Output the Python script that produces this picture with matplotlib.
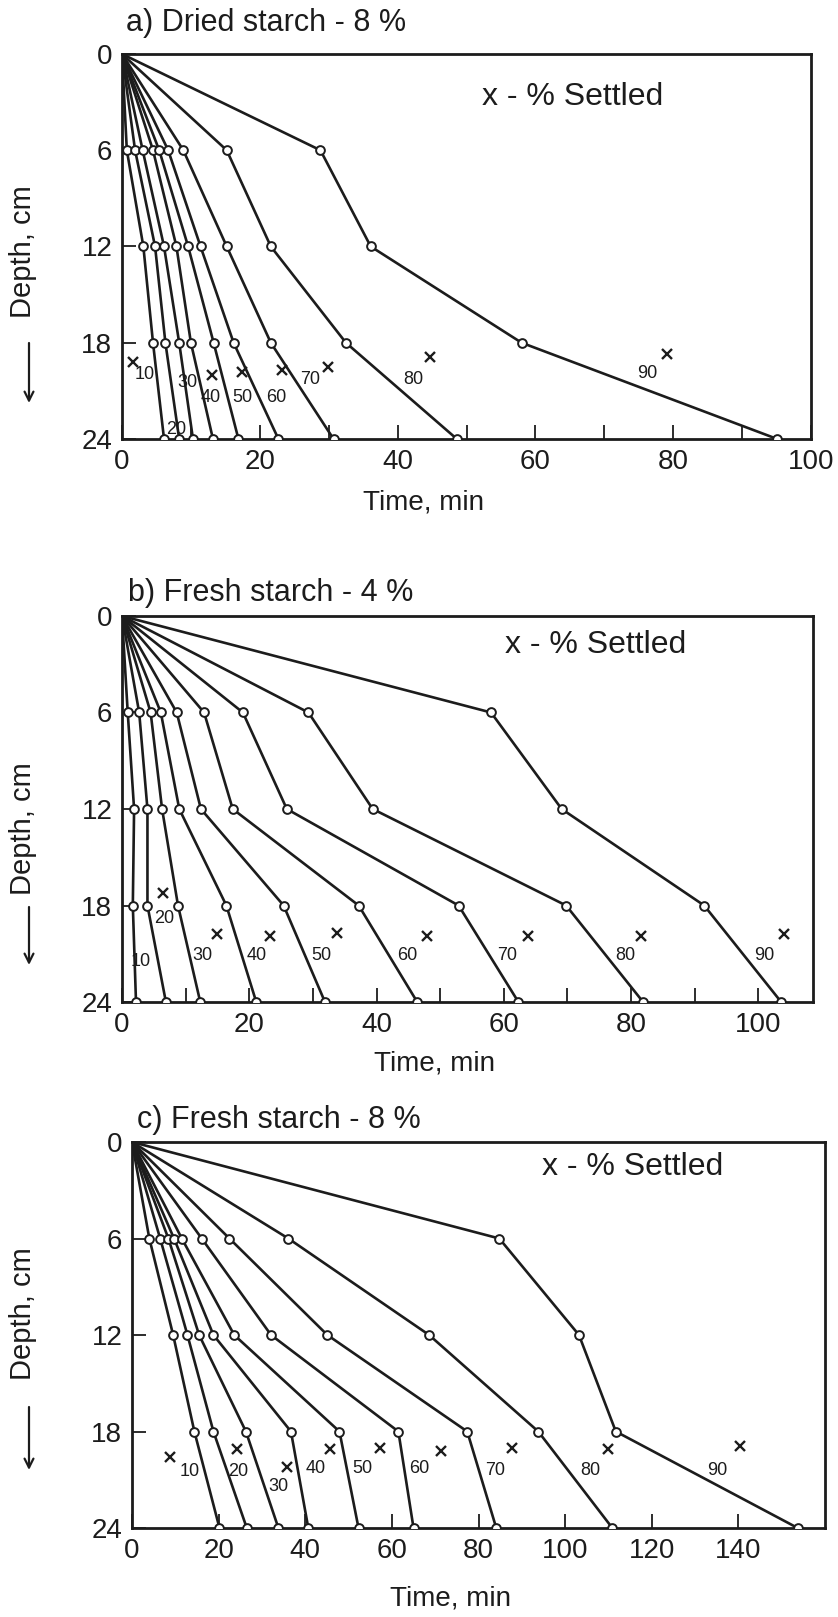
import matplotlib.pyplot as plt
import numpy as np

plt.rcParams['font.family'] = ['Liberation Sans', 'DejaVu Sans']

depths = [0, 6, 12, 18, 24]
settled = [10, 20, 30, 40, 50, 60, 70, 80, 90]

# a) dried starch 8 %: time (min) at which each % settled front reaches 6/12/18/24 cm
dried8_t6 = [0.7, 1.9, 3.0, 4.5, 5.4, 6.7, 8.9, 15.2, 28.8]
dried8_t12 = [3.1, 4.8, 6.1, 7.9, 9.6, 11.4, 15.2, 21.6, 36.1]
dried8_t18 = [4.5, 6.3, 8.3, 10.0, 13.3, 16.2, 21.6, 32.5, 58.0]
dried8_t24 = [6.1, 8.3, 10.3, 13.2, 16.9, 22.7, 30.7, 48.6, 95.1]
dried8_x_pct = [10, 40, 50, 60, 70, 80, 90]
dried8_x_t = [1.6, 13.0, 17.4, 23.2, 29.9, 44.7, 79.1]
dried8_x_d = [19.2, 20.0, 19.8, 19.7, 19.5, 18.9, 18.7]
dried8_tag_t = [3.3, 7.9, 9.5, 12.8, 17.4, 22.4, 27.3, 42.3, 76.2]
dried8_tag_d = [20.0, 23.4, 20.5, 21.4, 21.4, 21.4, 20.3, 20.3, 19.9]

# b) fresh starch 4 %
fresh4_t6 = [0.9, 2.7, 4.5, 6.1, 8.6, 12.9, 19.0, 29.3, 58.0]
fresh4_t12 = [1.9, 4.0, 6.3, 9.0, 12.4, 17.4, 25.9, 39.4, 69.1]
fresh4_t18 = [1.7, 4.0, 8.8, 16.4, 25.4, 37.2, 52.9, 69.8, 91.5]
fresh4_t24 = [2.2, 6.9, 12.3, 21.1, 31.9, 46.4, 62.3, 81.9, 103.6]
fresh4_x_pct = [20, 30, 40, 50, 60, 70, 80, 90]
fresh4_x_t = [6.4, 14.9, 23.3, 33.8, 47.9, 63.8, 81.6, 104.0]
fresh4_x_d = [17.2, 19.8, 19.9, 19.7, 19.9, 19.9, 19.9, 19.8]
fresh4_tag_t = [3.0, 6.6, 12.7, 21.2, 31.3, 44.9, 60.5, 79.1, 101.0]
fresh4_tag_d = [21.5, 18.8, 21.1, 21.1, 21.1, 21.1, 21.1, 21.1, 21.1]

# c) fresh starch 8 %
fresh8_t6 = [4.0, 6.5, 8.4, 9.7, 11.5, 16.1, 22.5, 36.1, 84.8]
fresh8_t12 = [9.5, 12.8, 15.5, 18.8, 23.6, 32.1, 45.1, 68.6, 103.2]
fresh8_t18 = [14.4, 18.8, 26.3, 36.7, 47.9, 61.5, 77.4, 93.8, 111.7]
fresh8_t24 = [20.2, 26.5, 33.8, 40.7, 52.3, 65.0, 84.1, 110.9, 153.7]
fresh8_x_pct = [10, 20, 30, 40, 50, 60, 70, 80, 90]
fresh8_x_t = [8.8, 24.2, 35.7, 45.7, 57.3, 71.3, 87.7, 109.9, 140.3]
fresh8_x_d = [19.6, 19.1, 20.2, 19.1, 19.0, 19.2, 19.0, 19.1, 18.9]
fresh8_tag_t = [13.4, 24.5, 33.8, 42.5, 53.3, 66.4, 83.8, 105.8, 135.2]
fresh8_tag_d = [20.5, 20.5, 21.4, 20.3, 20.3, 20.3, 20.4, 20.4, 20.4]

INK = '#1c1c1c'
W, H = 838, 1617


def _box(left, top, right, bottom):
    # pixel box -> figure fraction rect
    return [left / W, 1 - bottom / H, (right - left) / W, (bottom - top) / H]


def draw_panel(ax, rows, x_t, x_d, tag_t, tag_d, xmax, xticks, minor, note_x, note_y):
    for i in range(len(settled)):
        t = [0] + [row[i] for row in rows]
        ax.plot(t, depths, color=INK, lw=1.9, zorder=2)
        ax.plot(t[1:], depths[1:], 'o', ms=6.3, mfc='white', mec=INK, mew=1.4, zorder=3)
    ax.plot(x_t, x_d, 'x', ms=7, mew=1.7, color=INK, zorder=3)
    for p, tx, dy in zip(settled, tag_t, tag_d):
        ax.text(tx, dy, str(p), fontsize=13, ha='center', va='center', color=INK)
    ax.text(note_x, note_y, 'x - % Settled', fontsize=23, ha='left', va='center', color=INK)

    ax.set_xlim(0, xmax)
    ax.set_ylim(24, 0)
    ax.set_xticks(xticks)
    if minor:
        ax.set_xticks(np.arange(10, xmax, 10), minor=True)
    ax.set_yticks(depths)
    ax.tick_params(which='both', direction='in', length=10, width=1.3, labelsize=20,
                   colors=INK, pad=7)
    for s in ax.spines.values():
        s.set_linewidth(2.0)
        s.set_color(INK)


def depth_label(fig, y_mid, y_arrow_top, y_arrow_bot):
    fig.text(23 / W, 1 - y_mid / H, 'Depth, cm', rotation=90, fontsize=21,
             ha='center', va='center', color=INK)
    fig.add_artist(plt.matplotlib.patches.FancyArrowPatch(
        (29 / W, 1 - y_arrow_top / H), (29 / W, 1 - y_arrow_bot / H),
        transform=fig.transFigure, arrowstyle='->', lw=1.6, color=INK,
        mutation_scale=16, shrinkA=0, shrinkB=0))


fig = plt.figure(figsize=(W / 100, H / 100), dpi=100)

ax_a = fig.add_axes(_box(122, 54, 811, 439))
draw_panel(ax_a, [dried8_t6, dried8_t12, dried8_t18, dried8_t24],
           dried8_x_t, dried8_x_d, dried8_tag_t, dried8_tag_d,
           100, np.arange(0, 101, 20), True, 52.2, 2.7)

ax_b = fig.add_axes(_box(122, 616, 813, 1002))
draw_panel(ax_b, [fresh4_t6, fresh4_t12, fresh4_t18, fresh4_t24],
           fresh4_x_t, fresh4_x_d, fresh4_tag_t, fresh4_tag_d,
           108.6, np.arange(0, 101, 20), True, 60.2, 1.8)

ax_c = fig.add_axes(_box(132, 1142, 825, 1528))
draw_panel(ax_c, [fresh8_t6, fresh8_t12, fresh8_t18, fresh8_t24],
           fresh8_x_t, fresh8_x_d, fresh8_tag_t, fresh8_tag_d,
           160, np.arange(0, 141, 20), False, 94.6, 1.55)

fig.text(126 / W, 1 - 23 / H, 'a) Dried starch - 8 %', fontsize=22, ha='left', va='center', color=INK)
fig.text(128 / W, 1 - 593 / H, 'b) Fresh starch - 4 %', fontsize=22, ha='left', va='center', color=INK)
fig.text(137 / W, 1 - 1120 / H, 'c) Fresh starch - 8 %', fontsize=22, ha='left', va='center', color=INK)

fig.text(423 / W, 1 - 502 / H, 'Time, min', fontsize=20, ha='center', va='center', color=INK)
fig.text(434 / W, 1 - 1063 / H, 'Time, min', fontsize=20, ha='center', va='center', color=INK)
fig.text(450 / W, 1 - 1598 / H, 'Time, min', fontsize=20, ha='center', va='center', color=INK)

depth_label(fig, 252, 343, 403)
depth_label(fig, 829, 907, 965)
depth_label(fig, 1314, 1407, 1470)

fig.savefig('out.png', dpi=100)
